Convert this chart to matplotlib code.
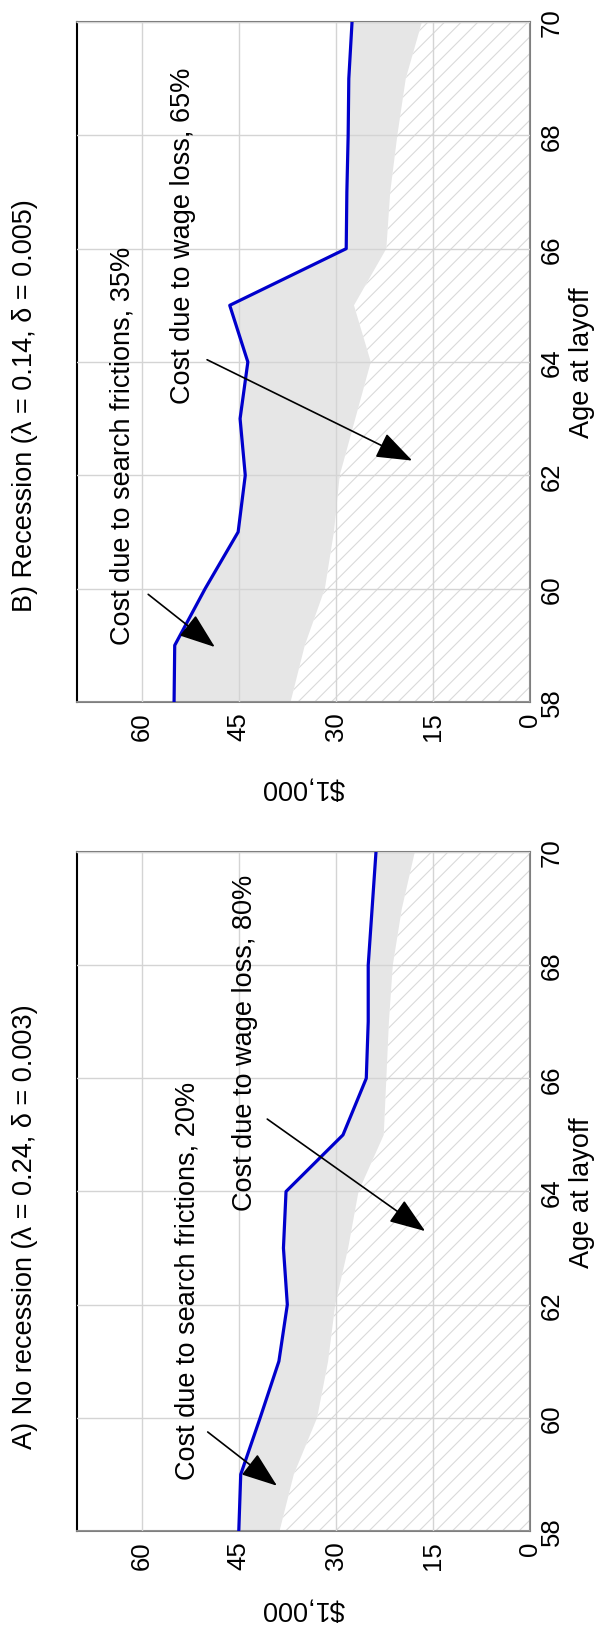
import matplotlib
matplotlib.use("Agg")
import matplotlib.pyplot as plt

plt.rcParams['font.family'] = ['Liberation Sans', 'DejaVu Sans']
plt.rcParams['hatch.linewidth'] = 0.8

# age at layoff
age = [58, 59, 60, 61, 62, 63, 64, 65, 66, 67, 68, 69, 70]

# A) no recession, $1,000
total_a = [45.0, 44.7, 41.7, 38.8, 37.5, 38.1, 37.7, 28.9, 25.3, 25.0, 25.0, 24.4, 23.8]
wage_a = [38.7, 36.5, 32.9, 31.2, 30.1, 28.1, 26.5, 22.6, 22.2, 21.8, 21.2, 19.8, 17.8]

# B) recession, $1,000
total_b = [55.0, 54.9, 50.2, 45.1, 44.0, 44.8, 43.6, 46.4, 28.4, 28.3, 28.1, 28.0, 27.5]
wage_b = [37.0, 34.8, 31.7, 30.3, 29.4, 27.0, 24.6, 27.2, 22.2, 21.6, 20.5, 19.2, 16.7]

dollar_ticks = [0, 15, 30, 45, 60]
age_ticks = [58, 60, 62, 64, 66, 68, 70]

FS = 19.5      # titles, labels, annotations
TICK_FS = 18.5


def draw_panel(ax, total, wage, title, title_y, search_txt, wage_txt, xlab_y,
               search_pos, search_arrow, wage_pos, wage_arrow):
    # hatched wage-loss area and grey search-friction area
    ax.fill_betweenx(age, 0, wage, facecolor='white', hatch='//',
                     edgecolor='#dadada', linewidth=0, zorder=1)
    ax.fill_betweenx(age, wage, total, facecolor='#e6e6e6', linewidth=0, zorder=1)
    ax.plot(total, age, color='#0000cc', linewidth=2.3, zorder=3)

    ax.set_xlim(70, 0)
    ax.set_ylim(58, 70)
    ax.set_xticks(dollar_ticks)
    ax.set_yticks(age_ticks)
    ax.yaxis.tick_right()
    ax.tick_params(axis='x', labelrotation=90, labelsize=TICK_FS, length=0, pad=7)
    ax.tick_params(axis='y', labelrotation=90, labelsize=TICK_FS, length=0, pad=7)
    for lab in ax.get_yticklabels():
        lab.set_verticalalignment('center')
    ax.grid(True, color='#d4d4d4', linewidth=1.0)
    ax.set_axisbelow(False)
    for side, sp in ax.spines.items():
        sp.set_color('#000000' if side == 'left' else '#7f7f7f')
        sp.set_linewidth(1.5)

    ax.set_xlabel('$1,000', fontsize=FS, rotation=180, va='center', ha='center')
    ax.xaxis.set_label_coords(0.5, xlab_y)
    ax.yaxis.set_label_position('right')
    ax.set_ylabel('Age at layoff', fontsize=FS, rotation=90, va='center', ha='center')
    ax.yaxis.set_label_coords(1.115, 0.5)

    fig.text(0.0416, title_y, title, fontsize=FS, rotation=90, ha='center', va='center')

    arrow = dict(arrowstyle='-|>,head_length=1.5,head_width=0.55', color='black',
                 linewidth=1.2, mutation_scale=15, shrinkA=0, shrinkB=0)
    ax.text(search_pos[0], search_pos[1], search_txt, fontsize=FS, rotation=90,
            ha='center', va='center', zorder=5)
    ax.annotate('', xy=search_arrow[1], xytext=search_arrow[0], arrowprops=arrow, zorder=5)
    ax.text(wage_pos[0], wage_pos[1], wage_txt, fontsize=FS, rotation=90,
            ha='center', va='center', zorder=5)
    ax.annotate('', xy=wage_arrow[1], xytext=wage_arrow[0], arrowprops=arrow, zorder=5)


fig = plt.figure(figsize=(6.01, 16.33), dpi=100)

ax_b = fig.add_axes([77 / 601, (1633 - 703) / 1633, 453 / 601, 680 / 1633])
ax_a = fig.add_axes([77 / 601, (1633 - 1532) / 1633, 453 / 601, 679 / 1633])

draw_panel(ax_a, total_a, wage_a,
           'A) No recession (\u03bb = 0.24, \u03b4 = 0.003)', 0.2486,
           'Cost due to search frictions, 20%', 'Cost due to wage loss, 80%', -0.113,
           (53.0, 62.43), ((49.8, 59.75), (39.1, 58.8)),
           (44.0, 66.64), ((40.6, 65.28), (16.2, 63.3)))

draw_panel(ax_b, total_b, wage_b,
           'B) Recession (\u03bb = 0.14, \u03b4 = 0.005)', 0.7514,
           'Cost due to search frictions, 35%', 'Cost due to wage loss, 65%', -0.124,
           (62.9, 62.54), ((59.0, 59.9), (48.7, 58.97)),
           (53.6, 66.25), ((49.9, 64.04), (18.2, 62.26)))

fig.savefig('out.png', dpi=100)
